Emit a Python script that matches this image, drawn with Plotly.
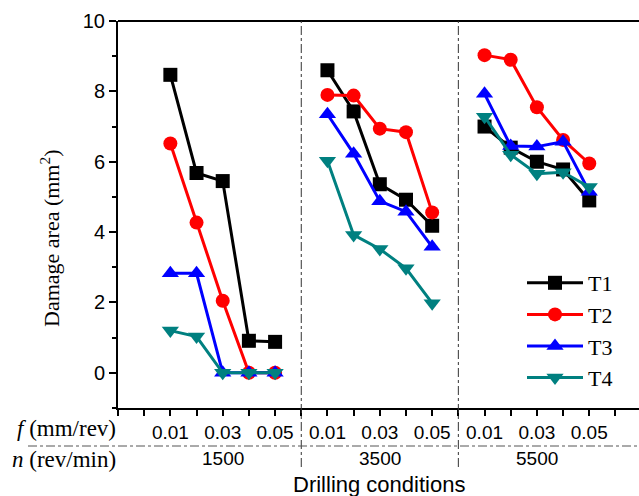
import plotly.graph_objects as go

# ---- data ----
feeds = [0.01, 0.02, 0.03, 0.04, 0.05]          # f (mm/rev)
speeds = [1500, 3500, 5500]                      # n (rev/min)
series_names = ["T1", "T2", "T3", "T4"]
colors = ["#000000", "#FF0000", "#0000FF", "#008080"]
symbols = ["square", "circle", "triangle-up", "triangle-down"]

T1 = [[8.47, 5.68, 5.45, 0.91, 0.88],
      [8.60, 7.43, 5.36, 4.92, 4.18],
      [7.00, 6.40, 6.00, 5.78, 4.90]]
T2 = [[6.52, 4.27, 2.05, 0.00, 0.00],
      [7.90, 7.88, 6.94, 6.84, 4.56],
      [9.03, 8.90, 7.55, 6.62, 5.95]]
T3 = [[2.83, 2.83, 0.00, 0.00, 0.00],
      [7.35, 6.23, 4.88, 4.58, 3.58],
      [7.93, 6.45, 6.43, 6.57, 5.15]]
T4 = [[1.20, 1.03, 0.00, 0.00, 0.00],
      [6.03, 3.92, 3.52, 2.97, 1.98],
      [7.28, 6.20, 5.66, 5.70, 5.28]]
all_series = [T1, T2, T3, T4]

f_labels = ["0.01", "0.03", "0.05"]
f_label_slots = [0, 2, 4]

# axis positions: each speed block has 5 feed slots, blocks separated by 6 units
block_start = 2
block_step = 6

fig = go.Figure()
for name, col, sym, data in zip(series_names, colors, symbols, all_series):
    xs, ys = [], []
    for gi, block in enumerate(data):
        for fi, v in enumerate(block):
            xs.append(block_start + block_step * gi + fi)
            ys.append(v)
        xs.append(None)
        ys.append(None)
    size = 15 if "triangle" in sym else 14
    fig.add_trace(go.Scatter(
        x=xs, y=ys, name=name, mode="lines+markers",
        line=dict(color=col, width=3),
        marker=dict(symbol=sym, size=size, color=col),
        connectgaps=False,
    ))

tickvals, ticktext = [], []
for gi in range(len(speeds)):
    for slot, lab in zip(f_label_slots, f_labels):
        tickvals.append(block_start + block_step * gi + slot)
        ticktext.append(lab)

W, H = 639, 496
L, T, B = 118, 21, 88
plot_w = W - L
plot_h = H - T - B

def px_to_paper_x(px):
    return (px - L) / plot_w

def px_to_paper_y(py):
    return (H - B - py) / plot_h

SERIF = "Liberation Serif"
SANS = "Liberation Sans"

fig.update_layout(
    width=W, height=H,
    margin=dict(l=L, r=0, t=T, b=B),
    plot_bgcolor="white", paper_bgcolor="white",
    showlegend=True,
    legend=dict(
        x=px_to_paper_x(522), y=px_to_paper_y(262), xanchor="left", yanchor="top",
        font=dict(family=SERIF, size=22, color="black"),
        bgcolor="rgba(0,0,0,0)", itemwidth=56, tracegroupgap=0,
    ),
    font=dict(family=SANS, size=19, color="black"),
)

fig.update_xaxes(
    range=[0, 19.9], showgrid=False, zeroline=False,
    showline=True, linecolor="black", linewidth=2, mirror=False,
    tickmode="array", tickvals=tickvals, ticktext=ticktext,
    ticks="outside", ticklen=6, tickwidth=1.5, tickcolor="black",
    minor=dict(tick0=0, dtick=1, ticks="outside", ticklen=6, tickwidth=1.5, tickcolor="black"),
    tickfont=dict(family=SANS, size=19),
)
fig.update_yaxes(
    range=[-1, 10], showgrid=False, zeroline=False,
    showline=True, linecolor="black", linewidth=2,
    tickvals=[0, 2, 4, 6, 8, 10],
    ticks="outside", ticklen=7, tickwidth=1.5, tickcolor="black",
    minor=dict(dtick=1, ticks="outside", ticklen=4, tickwidth=1.5, tickcolor="black"),
    tickfont=dict(family=SANS, size=20),
)

# top border line
fig.add_shape(type="line", xref="paper", yref="paper", x0=0, x1=1, y0=1, y1=1,
              line=dict(color="black", width=2))

# vertical dash-dot dividers
for gi in range(1, len(speeds)):
    xd = block_start + block_step * gi - 1
    fig.add_shape(type="line", xref="x", yref="paper", x0=xd, x1=xd,
                  y0=px_to_paper_y(467), y1=1,
                  line=dict(color="#333333", width=1, dash="dashdot"))

# horizontal dash-dot between f and n rows
fig.add_shape(type="line", xref="paper", yref="paper",
              x0=px_to_paper_x(28), x1=1, y0=px_to_paper_y(446), y1=px_to_paper_y(446),
              line=dict(color="#555555", width=1, dash="dashdot"))

serif = dict(family=SERIF, size=23, color="black")
fig.add_annotation(text="<i>f</i> (mm/rev)", xref="paper", yref="paper",
                   x=px_to_paper_x(118), y=px_to_paper_y(428), xanchor="right", yanchor="middle",
                   showarrow=False, font=serif)
fig.add_annotation(text="<i>n</i> (rev/min)", xref="paper", yref="paper",
                   x=px_to_paper_x(118), y=px_to_paper_y(459), xanchor="right", yanchor="middle",
                   showarrow=False, font=serif)

for gi, s in enumerate(speeds):
    fig.add_annotation(text=str(s), xref="x", yref="paper",
                       x=block_start + block_step * gi + 2, y=px_to_paper_y(458),
                       yanchor="middle", showarrow=False,
                       font=dict(family=SANS, size=19, color="black"))

fig.add_annotation(text="Drilling conditions", xref="paper", yref="paper",
                   x=px_to_paper_x(379), y=px_to_paper_y(484), xanchor="center", yanchor="middle",
                   showarrow=False, font=dict(family=SANS, size=22, color="black"))

fig.add_annotation(text="Damage area (mm<sup>2</sup>)", xref="paper", yref="paper",
                   x=px_to_paper_x(50), y=px_to_paper_y(238), xanchor="center", yanchor="middle",
                   textangle=-90, showarrow=False, font=dict(family=SERIF, size=22, color="black"))

fig.write_html("out.html")
